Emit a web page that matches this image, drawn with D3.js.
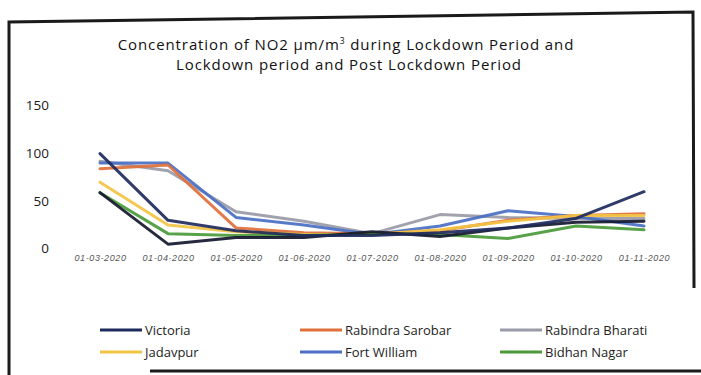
<!DOCTYPE html>
<html><head><meta charset="utf-8">
<script src="https://cdn.jsdelivr.net/npm/d3@7"></script>
<style>body{margin:0;background:#fff}svg{display:block}</style>
</head><body>
<svg id="c" width="701" height="375"></svg>
<script>
const dates = ["01-03-2020","01-04-2020","01-05-2020","01-06-2020","01-07-2020","01-08-2020","01-09-2020","01-10-2020","01-11-2020"];
const yTicks = [0, 50, 100, 150];
const seriesNames = ["Victoria","Rabindra Sarobar","Rabindra Bharati","Jadavpur","Fort William","Bidhan Nagar",""];
const seriesColors = ["#1f2a5c","#e0703a","#9a9aa8","#f2c444","#4a6fc4","#4a9a3a","#15182e"];
const victoria        = [98, 28, 17, 12, 12, 15, 20, 30, 58];
const rabindraSarobar = [82, 86, 20, 15, 14, 17, 28, 33, 35];
const rabindraBharati = [90, 80, 37, 27, 14, 34, 31, 30, 30];
const jadavpur        = [68, 23, 16, 13, 13, 18, 27, 33, 33];
const fortWilliam     = [88, 88, 31, 23, 13, 22, 38, 32, 22];
const bidhanNagar     = [57, 14, 12, 12, 14, 13, 9, 22, 18];
const unlabeled       = [57, 3, 10, 10, 16, 11, 20, 26, 27];
const seriesValues = [victoria, rabindraSarobar, rabindraBharati, jadavpur, fortWilliam, bidhanNagar, unlabeled];
const titleLines = ["Concentration of NO2 μm/m", "Lockdown period and Post Lockdown Period"];

const svg = d3.select("#c");
// photo frame
svg.append("path").attr("d","M9,375 L9,22 L693,12 L694,288").attr("fill","none").attr("stroke","#1a1a1a").attr("stroke-width",3);
svg.append("line").attr("x1",150).attr("x2",701).attr("y1",371).attr("y2",371).attr("stroke","#1a1a1a").attr("stroke-width",3);

const x = d3.scalePoint().domain(dates).range([100, 644]);
const y = d3.scaleLinear().domain([0, 150]).range([247, 104]);

// title
const t1 = svg.append("text").attr("x", 346).attr("y", 50).attr("text-anchor","middle").attr("font-family","Open Sans").attr("font-size",15).attr("letter-spacing","0.9px").attr("fill","#111");
t1.append("tspan").text(titleLines[0]);
t1.append("tspan").attr("dy",-6).attr("font-size",8.5).text("3");
t1.append("tspan").attr("dy",6).text("  during Lockdown Period and");
svg.append("text").attr("x", 349).attr("y", 70).attr("text-anchor","middle").attr("font-family","Open Sans").attr("font-size",15).attr("letter-spacing","0.9px").attr("fill","#111").text(titleLines[1]);

// y axis
const ya = svg.append("g").attr("transform","translate(49,0)").call(d3.axisLeft(y).tickValues(yTicks).tickSize(0).tickPadding(0));
ya.select(".domain").remove();
ya.selectAll("text").attr("font-family","Open Sans").attr("font-size",13.5).attr("fill","#1a1a1a").attr("dy","0.35em").attr("transform","translate(0,1)");

// x axis
const xa = svg.append("g").attr("transform","translate(0,255)").call(d3.axisBottom(x).tickSize(0).tickPadding(0));
xa.select(".domain").remove();
xa.selectAll("text").attr("font-family","Liberation Sans").attr("font-size",9).attr("letter-spacing","0.6px").attr("fill","#555").attr("dy","0.7em").attr("font-style","italic");

// lines
const line = d3.line().x((d,i)=>x(dates[i])).y(d=>y(d));
const order = [2,4,1,3,5,6,0];
order.forEach(k=>{
  svg.append("path").datum(seriesValues[k]).attr("d",line).attr("fill","none")
    .attr("stroke",seriesColors[k]).attr("stroke-width",3).attr("stroke-linejoin","round").attr("stroke-linecap","round").attr("opacity",0.92);
});

// legend
const legX = [100, 300, 500], legY = [330, 352];
seriesNames.slice(0,6).forEach((n,i)=>{
  const lx = legX[i%3], ly = legY[Math.floor(i/3)];
  svg.append("line").attr("x1",lx).attr("x2",lx+42).attr("y1",ly).attr("y2",ly).attr("stroke",seriesColors[i]).attr("stroke-width",3);
  svg.append("text").attr("x",lx+45).attr("y",ly).attr("dy","0.35em").attr("font-family","Open Sans").attr("font-size",13).attr("fill","#222").text(n);
});
</script>
</body></html>
